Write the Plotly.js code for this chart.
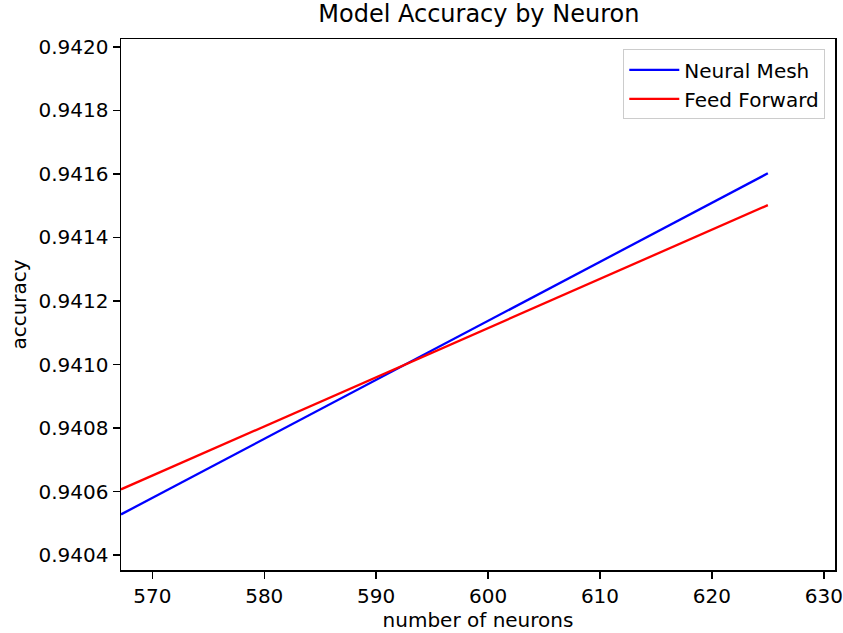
<!DOCTYPE html>
<html>
<head>
<meta charset="utf-8">
<script src="https://cdn.plot.ly/plotly-3.0.1.min.js"></script>
<style>html,body{margin:0;padding:0;background:#fff}#chart{width:843px;height:633px}</style>
</head>
<body>
<div id="chart"></div>
<script>
// Data
const neurons = [567.2, 625];
const neuralMesh = [0.940528, 0.941602];
const feedForward = [0.940607, 0.941502];
const seriesNames = ["Neural Mesh", "Feed Forward"];
const xTicks = [570, 580, 590, 600, 610, 620, 630];
const yTicks = [0.9404, 0.9406, 0.9408, 0.9410, 0.9412, 0.9414, 0.9416, 0.9418, 0.9420];

const font = "DejaVu Sans, sans-serif";
const traces = [
  {x: neurons, y: neuralMesh, name: seriesNames[0], mode: "lines", line: {color: "#0000ff", width: 2.3}},
  {x: neurons, y: feedForward, name: seriesNames[1], mode: "lines", line: {color: "#ff0000", width: 2.3}}
];
const axisCommon = {
  showline: true, mirror: true, linecolor: "#000", linewidth: 1.5,
  ticks: "outside", ticklen: 7, tickwidth: 1.5, tickcolor: "#000",
  showgrid: false, zeroline: false,
  tickfont: {family: font, size: 20, color: "#000"}
};
const layout = {
  width: 843, height: 633,
  margin: {l: 121, r: 8, t: 39, b: 63},
  paper_bgcolor: "#fff", plot_bgcolor: "#fff",
  title: {text: "Model Accuracy by Neuron", font: {family: font, size: 24, color: "#000"}, x: 0.568, xanchor: "center", y: 0.992, yanchor: "top"},
  xaxis: Object.assign({}, axisCommon, {
    range: [567.2, 631.0], tickvals: xTicks, ticktext: xTicks.map(String),
    title: {text: "number of neurons", font: {family: font, size: 20, color: "#000"}, standoff: 4}
  }),
  yaxis: Object.assign({}, axisCommon, {
    range: [0.940353, 0.942025], tickvals: yTicks, ticktext: yTicks.map(v => v.toFixed(4)),
    title: {text: "accuracy", font: {family: font, size: 20, color: "#000"}, standoff: 6}
  }),
  showlegend: true,
  legend: {
    x: 0.9864, xanchor: "right", y: 0.9806, yanchor: "top",
    itemwidth: 50,
    bgcolor: "rgba(255,255,255,0.8)", bordercolor: "#cccccc", borderwidth: 1,
    font: {family: font, size: 20, color: "#000"}
  }
};
Plotly.newPlot("chart", traces, layout, {displayModeBar: false, staticPlot: true});
</script>
</body>
</html>
